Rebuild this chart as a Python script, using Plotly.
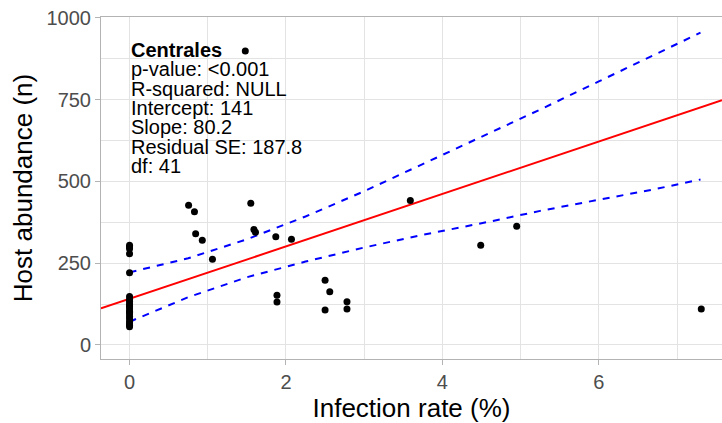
import plotly.graph_objects as go

# Observations: infection rate (%) vs host abundance (n)
infection_rate = [
    0, 0, 0, 0, 0, 0, 0, 0, 0, 0, 0, 0, 0, 0, 0, 0, 0, 0, 0, 0, 0,
    0.755, 0.83, 0.845, 0.93, 1.06, 1.48, 1.55, 1.59, 1.61, 1.87, 1.885, 1.885,
    2.07, 2.5, 2.5, 2.56, 2.78, 2.78, 3.59, 4.49, 4.95, 7.31,
]
host_abundance = [
    305, 300, 294, 279, 221, 148, 140, 133, 125, 120, 117, 110, 102, 100, 95, 87, 80, 72, 65, 60, 56,
    427, 407, 340, 320, 262, 899, 433, 353, 345, 331, 152, 131,
    323, 198, 107, 163, 132, 110, 442, 305, 363, 110,
]

# Fitted model
intercept = 141
slope = 80.2

# Confidence band read along the fit
ci_x = [0, 0.75, 1.5, 2.25, 3, 3.75, 4.5, 5.25, 6, 6.75, 7.3]
ci_upper = [222, 265, 323, 393, 470, 553, 635, 720, 806, 892, 955]
ci_lower = [71, 146, 207, 255, 298, 337, 372, 410, 444, 478, 506]

stats_title = "Centrales"
stats_lines = [
    "p-value: <0.001",
    "R-squared: NULL",
    "Intercept: 141",
    "Slope: 80.2",
    "Residual SE: 187.8",
    "df: 41",
]

x_ticks = [0, 2, 4, 6]
y_ticks = [0, 250, 500, 750, 1000]

x_range = [-0.365, 7.575]
y_range = [-43, 1003]

W, H = 722, 423
M_L, M_R, M_T, M_B = 101, 0, 17, 64

FONT = "Liberation Sans, Arial, sans-serif"
GRID = "#E3E3E3"
BORDER = "#B3B3B3"

fit_x = list(x_range)
fit_y = [intercept + slope * v for v in fit_x]

fig = go.Figure()

fig.add_trace(go.Scatter(
    x=fit_x, y=fit_y, mode="lines",
    line=dict(color="#FF0000", width=2), hoverinfo="skip", showlegend=False,
))
for band in (ci_upper, ci_lower):
    fig.add_trace(go.Scatter(
        x=ci_x, y=band, mode="lines",
        line=dict(color="#0000FF", width=2, dash="7px,7px"),
        hoverinfo="skip", showlegend=False,
    ))
fig.add_trace(go.Scatter(
    x=infection_rate, y=host_abundance, mode="markers",
    marker=dict(color="black", size=7, line=dict(width=0)),
    showlegend=False,
))

# Stats block, one annotation per line for tight line spacing
plot_w = W - M_L - M_R
plot_h = H - M_T - M_B


def paper_x(px):
    return (px - M_L) / plot_w


def paper_y(py):
    return (H - M_B - py) / plot_h


text_left = 130
line_top = 50
line_step = 19.3
all_lines = [f"<b>{stats_title}</b>"] + stats_lines
for i, txt in enumerate(all_lines):
    fig.add_annotation(
        x=paper_x(text_left), y=paper_y(line_top + i * line_step),
        xref="paper", yref="paper", xanchor="left", yanchor="middle",
        text=txt, showarrow=False, borderpad=0,
        font=dict(family=FONT, size=20, color="black"),
    )

fig.update_layout(
    width=W, height=H,
    margin=dict(l=M_L, r=M_R, t=M_T, b=M_B, pad=0),
    paper_bgcolor="white", plot_bgcolor="white",
    font=dict(family=FONT),
)

fig.update_xaxes(
    range=x_range, tickvals=x_ticks, ticktext=[str(v) for v in x_ticks],
    showgrid=True, gridcolor=GRID, gridwidth=1,
    minor=dict(tickvals=[1, 3, 5, 7], showgrid=True, gridcolor=GRID, gridwidth=1, ticks=""),
    showline=True, linecolor=BORDER, linewidth=1, mirror=True,
    ticks="outside", ticklen=5, tickcolor=BORDER, tickwidth=1,
    tickfont=dict(family=FONT, size=20, color="#4D4D4D"),
    zeroline=False,
    title=dict(text="Infection rate (%)", font=dict(family=FONT, size=26, color="black"), standoff=6),
)
fig.update_yaxes(
    range=y_range, tickvals=y_ticks, ticktext=[str(v) for v in y_ticks],
    showgrid=True, gridcolor=GRID, gridwidth=1,
    minor=dict(tickvals=[125, 375, 625, 875], showgrid=True, gridcolor=GRID, gridwidth=1, ticks=""),
    showline=True, linecolor=BORDER, linewidth=1, mirror=False,
    ticks="outside", ticklen=5, tickcolor=BORDER, tickwidth=1,
    tickfont=dict(family=FONT, size=20, color="#4D4D4D"),
    zeroline=False,
    title=dict(text="Host abundance (n)", font=dict(family=FONT, size=26, color="black"), standoff=6),
)

fig.write_html("out.html")
